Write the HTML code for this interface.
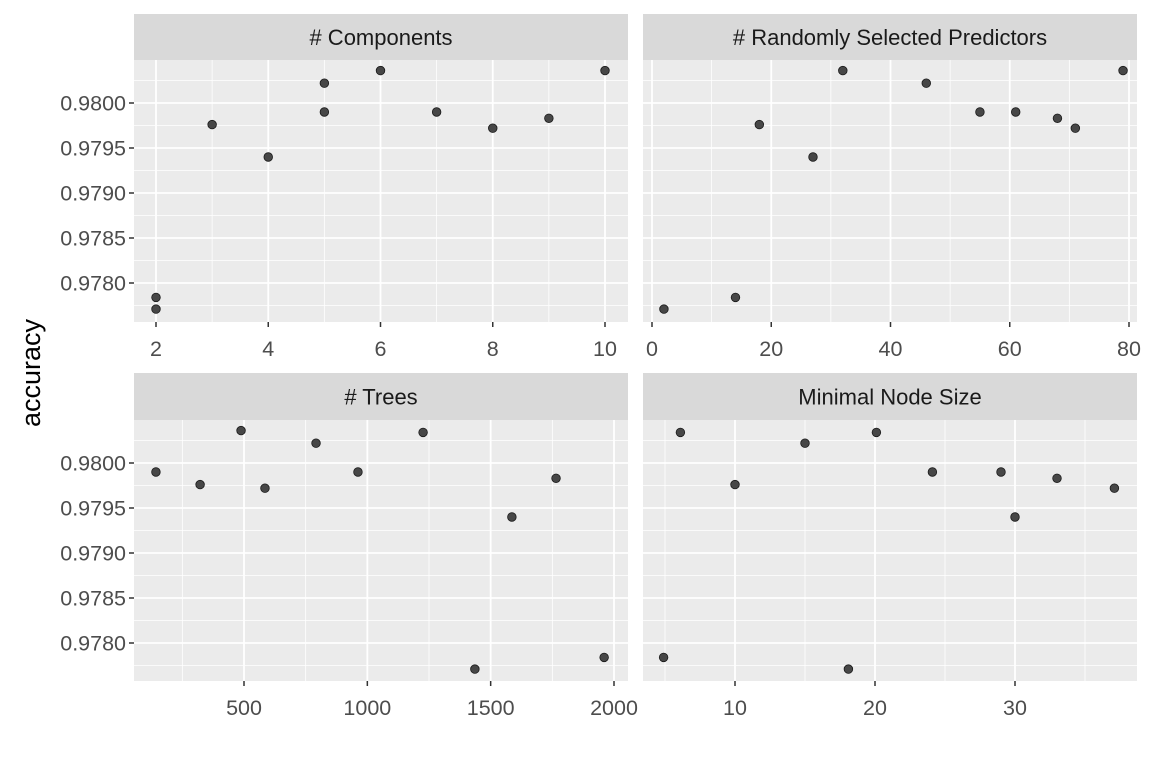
<!DOCTYPE html>
<html><head><meta charset="utf-8"><style>
html,body{margin:0;padding:0;background:#fff;}
svg{display:block;font-family:"Liberation Sans",Arial,sans-serif;}
</style></head><body>
<svg id="chart" width="1152" height="768" xmlns="http://www.w3.org/2000/svg">
<text x="40" y="373" transform="rotate(-90 40 373)" text-anchor="middle" font-size="27" fill="#000">accuracy</text>
</svg>
<script>
const compX = [2,2,3,4,5,5,6,7,8,9,10];
const compY = [0.97784,0.97771,0.97976,0.97940,0.98022,0.97990,0.98036,0.97990,0.97972,0.97983,0.98036];
const predX = [2,14,18,27,32,46,55,61,68,71,79];
const predY = [0.97771,0.97784,0.97976,0.97940,0.98036,0.98022,0.97990,0.97990,0.97983,0.97972,0.98036];
const treeX = [143,322,488,585,792,962,1226,1436,1586,1765,1960];
const treeY = [0.97990,0.97976,0.98036,0.97972,0.98022,0.97990,0.98034,0.97771,0.97940,0.97983,0.97784];
const nodeX = [4.9,6.1,10,15,18.1,20.1,24.1,29,30,33,37.1];
const nodeY = [0.97784,0.98034,0.97976,0.98022,0.97771,0.98034,0.97990,0.97990,0.97940,0.97983,0.97972];
const yTicks = [0.9780,0.9785,0.9790,0.9795,0.9800];
const yTickLabels = ["0.9780","0.9785","0.9790","0.9795","0.9800"];
const yMinor = [0.97775,0.97825,0.97875,0.97925,0.97975,0.98025];
const panelTitles = ["# Components","# Randomly Selected Predictors","# Trees","Minimal Node Size"];
const compTicks = [2,4,6,8,10], compMinor = [3,5,7,9];
const predTicks = [0,20,40,60,80], predMinor = [10,30,50,70];
const treeTicks = [500,1000,1500,2000], treeMinor = [250,750,1250,1750];
const nodeTicks = [10,20,30], nodeMinor = [5,15,25,35];

const NS = "http://www.w3.org/2000/svg";
const svg = document.getElementById("chart");
function el(tag, attrs, parent){const e=document.createElementNS(NS,tag);for(const k in attrs)e.setAttribute(k,attrs[k]);(parent||svg).appendChild(e);return e;}
function lin(d0,d1,r0,r1){return v=>r0+(v-d0)/(d1-d0)*(r1-r0);}

const panels = [
 {x0:134,x1:628,top:14,py0:60,py1:322,xs:lin(2,10,156,605),yv:[0.9780,0.9800],yp:[283,103],xd:compX,yd:compY,ticks:compTicks,minor:compMinor,title:panelTitles[0],left:true},
 {x0:643,x1:1137,top:14,py0:60,py1:322,xs:lin(0,80,652,1129),yv:[0.9780,0.9800],yp:[283,103],xd:predX,yd:predY,ticks:predTicks,minor:predMinor,title:panelTitles[1],left:false},
 {x0:134,x1:628,top:373,py0:420,py1:681,xs:lin(500,2000,244,614),yv:[0.9780,0.9800],yp:[643,463],xd:treeX,yd:treeY,ticks:treeTicks,minor:treeMinor,title:panelTitles[2],left:true},
 {x0:643,x1:1137,top:373,py0:420,py1:681,xs:lin(10,30,735,1015),yv:[0.9780,0.9800],yp:[643,463],xd:nodeX,yd:nodeY,ticks:nodeTicks,minor:nodeMinor,title:panelTitles[3],left:false}
];

panels.forEach((p,i)=>{
  const ys = lin(p.yv[0],p.yv[1],p.yp[0],p.yp[1]);
  const g = el("g",{});
  
  
  const strip = el("rect",{x:p.x0,y:p.top,width:p.x1-p.x0,height:p.py0-p.top,fill:"#d9d9d9"},g);
  
  
  const st = el("text",{x:(p.x0+p.x1)/2,y:(p.top+p.py0)/2+8,"text-anchor":"middle","font-size":"22",fill:"#1a1a1a"},g);
  st.textContent = p.title;
  
  
  const bg = el("rect",{x:p.x0,y:p.py0,width:p.x1-p.x0,height:p.py1-p.py0,fill:"#ebebeb"},g);
  
  
  yMinor.forEach(v=>{const y=ys(v);if(y>p.py0&&y<p.py1){const l=el("line",{x1:p.x0,x2:p.x1,y1:y,y2:y,stroke:"#fff","stroke-width":"0.8"},g);}});
  p.minor.forEach(v=>{const x=p.xs(v);if(x>p.x0&&x<p.x1){const l=el("line",{x1:x,x2:x,y1:p.py0,y2:p.py1,stroke:"#fff","stroke-width":"0.8"},g);}});
  yTicks.forEach((v,k)=>{const y=ys(v);
    const l=el("line",{x1:p.x0,x2:p.x1,y1:y,y2:y,stroke:"#fff","stroke-width":"1.8"},g);
    
    
    if(p.left){
      const t=el("line",{x1:p.x0-5,x2:p.x0,y1:y,y2:y,stroke:"#333","stroke-width":"1.5"},g);
      
      
      const tx=el("text",{x:p.x0-8,y:y+7.5,"text-anchor":"end","font-size":"21.5",fill:"#4d4d4d"},g);
      tx.textContent=yTickLabels[k];
      
      
    }});
  p.ticks.forEach(v=>{const x=p.xs(v);
    const l=el("line",{x1:x,x2:x,y1:p.py0,y2:p.py1,stroke:"#fff","stroke-width":"1.8"},g);
    
    
    const t=el("line",{x1:x,x2:x,y1:p.py1,y2:p.py1+5,stroke:"#333","stroke-width":"1.5"},g);
    
    
    const tx=el("text",{x:x,y:p.py1+34,"text-anchor":"middle","font-size":"21.5",fill:"#4d4d4d"},g);
    tx.textContent=String(v);
    
    
  });
  p.xd.forEach((v,k)=>{
    const c=el("circle",{cx:p.xs(v),cy:ys(p.yd[k]),r:"4.3",fill:"#474747",stroke:"#1a1a1a","stroke-width":"0.8"},g);
    
    
  });
});
</script>
</body></html>
